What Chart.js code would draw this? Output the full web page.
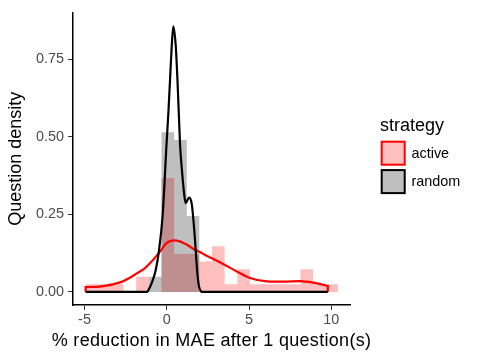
<!DOCTYPE html>
<html>
<head>
<meta charset="utf-8">
<script src="https://cdn.jsdelivr.net/npm/chart.js@4.4.0/dist/chart.umd.min.js"></script>
<style>
  html, body { margin: 0; padding: 0; background: #fff; }
</style>
</head>
<body>
<canvas id="chart" width="480" height="360"></canvas>
<script>
// histogram bins (left edges + last right edge)
var binEdges = [-4.93, -4.16, -3.40, -2.63, -1.86, -1.09, -0.32, 0.45, 1.22, 1.98,
                2.75, 3.52, 4.29, 5.06, 5.82, 6.59, 7.36, 8.13, 8.90, 9.66, 10.43];
var activeHist = [0.0245, 0.0245, 0.0245, 0, 0.049, 0, 0.3675, 0.1225, 0.1225, 0.098,
                  0.147, 0.0245, 0.0735, 0.0245, 0.0245, 0.0245, 0.0245, 0.0735, 0.0245, 0.0245];
var randomHist = [0, 0, 0, 0, 0, 0.049, 0.5145, 0.49, 0.245, 0,
                  0, 0, 0, 0, 0, 0, 0, 0, 0, 0];

// density curves
var activeDensX = [-4.93, -4.93, -3.85, -2.84, -2.24, -1.82, -1.32, -1.01, -0.41, 0.0, 0.5, 1.09,
                   1.72, 2.04, 2.33, 2.83, 3.54, 4.26, 5.06, 6.08, 7.09, 8.1, 8.91, 9.73, 9.79, 9.79];
var activeDensY = [0, 0.016, 0.019, 0.031, 0.046, 0.06, 0.077, 0.093, 0.13, 0.158, 0.166, 0.156,
                   0.136, 0.128, 0.119, 0.106, 0.087, 0.066, 0.045, 0.034, 0.033, 0.035, 0.030, 0.02, 0.019, 0];
var randomDensX = [-4.93, -1.2, -1.16, -0.91, -0.67, -0.47, -0.26, -0.14, -0.04, 0.10, 0.20, 0.30,
                   0.40, 0.55, 0.65, 0.73, 0.81, 0.91, 1.01, 1.07, 1.15, 1.36, 1.52, 1.66, 1.76,
                   1.86, 1.96, 2.08, 2.15, 9.79];
var randomDensY = [0, 0, 0.002, 0.029, 0.071, 0.134, 0.24, 0.346, 0.452, 0.579, 0.684, 0.79,
                   0.856, 0.79, 0.684, 0.579, 0.473, 0.40, 0.34, 0.31, 0.286, 0.304, 0.283, 0.208, 0.134,
                   0.06, 0.018, 0.002, 0, 0];

var xTicks = [-5, 0, 5, 10];
var yTicks = [0, 0.25, 0.5, 0.75];
var xTitle = "% reduction in MAE after 1 question(s)";
var yTitle = "Question density";
var legendTitle = "strategy";
var legendLabels = ["active", "random"];

var FONT = '"Liberation Sans", Arial, Helvetica, sans-serif';
Chart.defaults.font.family = FONT;

function histPoints(vals) {
    var pts = vals.map(function (v, i) { return {x: binEdges[i], y: v}; });
    pts.push({x: binEdges[binEdges.length - 1], y: 0});
    return pts;
}
function curvePoints(xs, ys) {
    return xs.map(function (x, i) { return {x: x, y: ys[i]}; });
}

// x title (slightly wider spacing) + legend in the right margin
var extras = {
    id: 'extras',
    afterDraw: function (chart) {
        var ctx = chart.ctx;
        var area = chart.chartArea;
        var fills = ['rgba(255,0,0,0.25)', 'rgba(0,0,0,0.25)'];
        var borders = ['#ff0000', '#000000'];
        ctx.save();
        ctx.textBaseline = 'middle';
        ctx.fillStyle = '#000';
        ctx.font = '18px ' + FONT;
        ctx.textAlign = 'center';
        if ('letterSpacing' in ctx) ctx.letterSpacing = '0.3px';
        ctx.fillText(xTitle, (area.left + area.right) / 2, 341);
        if ('letterSpacing' in ctx) ctx.letterSpacing = '0px';

        ctx.textAlign = 'left';
        ctx.fillText(legendTitle, 380, 126);
        legendLabels.forEach(function (lab, i) {
            var y = 141.7 + i * 28.4;
            ctx.fillStyle = '#fff';
            ctx.fillRect(381.7, y, 23, 23);
            ctx.fillStyle = fills[i];
            ctx.fillRect(381.7, y, 23, 23);
            ctx.strokeStyle = borders[i];
            ctx.lineWidth = 2;
            ctx.strokeRect(381.7, y, 23, 23);
            ctx.fillStyle = '#000';
            ctx.font = '14.4px ' + FONT;
            ctx.fillText(lab, 411.5, y + 12);
        });
        ctx.restore();
    }
};

var ctx = document.getElementById('chart').getContext('2d');
var myChart = new Chart(ctx, {
    type: 'line',
    data: {
        datasets: [
            {   // random density (on top)
                data: curvePoints(randomDensX, randomDensY),
                borderColor: '#000000',
                borderWidth: 2.2,
                pointRadius: 0,
                fill: false,
                cubicInterpolationMode: 'monotone'
            },
            {   // active density
                data: curvePoints(activeDensX, activeDensY),
                borderColor: '#ff0000',
                borderWidth: 2.2,
                pointRadius: 0,
                fill: false,
                cubicInterpolationMode: 'monotone'
            },
            {   // random histogram
                data: histPoints(randomHist),
                borderWidth: 0,
                borderColor: 'rgba(0,0,0,0)',
                backgroundColor: 'rgba(0,0,0,0.25)',
                pointRadius: 0,
                stepped: 'before',
                fill: 'origin'
            },
            {   // active histogram
                data: histPoints(activeHist),
                borderWidth: 0,
                borderColor: 'rgba(0,0,0,0)',
                backgroundColor: 'rgba(255,0,0,0.25)',
                pointRadius: 0,
                stepped: 'before',
                fill: 'origin'
            }
        ]
    },
    options: {
        responsive: false,
        animation: false,
        layout: { padding: { left: 0, right: 130, top: 8, bottom: 0 } },
        plugins: { legend: { display: false }, tooltip: { enabled: false } },
        scales: {
            x: {
                type: 'linear',
                min: -5.70,
                max: 11.14,
                afterFit: function (s) { s.height = 55; },
                afterBuildTicks: function (s) { s.ticks = xTicks.map(function (v) { return {value: v}; }); },
                grid: { drawOnChartArea: false, drawTicks: true, tickLength: 5, color: '#333333', lineWidth: 1 },
                border: { display: true, color: '#000000', width: 1.5 },
                ticks: { color: '#4d4d4d', font: { size: 14.4 }, padding: 1.5, maxRotation: 0 },
                title: { display: false }
            },
            y: {
                type: 'linear',
                min: -0.042,
                max: 0.90,
                afterFit: function (s) { s.width = 73; },
                afterBuildTicks: function (s) { s.ticks = yTicks.map(function (v) { return {value: v}; }); },
                grid: { drawOnChartArea: false, drawTicks: true, tickLength: 5, color: '#333333', lineWidth: 1 },
                border: { display: true, color: '#000000', width: 1.5 },
                ticks: { color: '#4d4d4d', font: { size: 14.4 }, padding: 4,
                         callback: function (v) { return v.toFixed(2); } },
                title: { display: true, text: yTitle, color: '#000',
                         font: { size: 18 }, padding: { top: 5, bottom: 0 } }
            }
        }
    },
    plugins: [extras]
});
</script>
</body>
</html>
